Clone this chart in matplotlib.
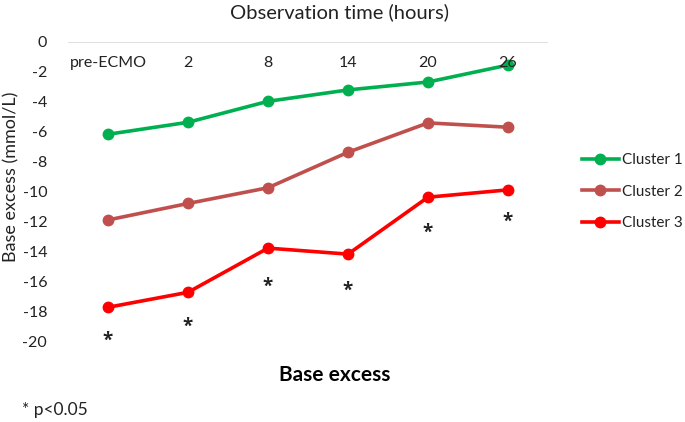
import matplotlib
matplotlib.use("Agg")
import matplotlib.pyplot as plt

plt.rcParams['font.family'] = ['Lato', 'DejaVu Sans']

categories = ["pre-ECMO", "2", "8", "14", "20", "26"]
cluster1 = [-6.18, -5.38, -3.98, -3.22, -2.69, -1.56]
cluster2 = [-11.9, -10.8, -9.75, -7.38, -5.42, -5.71]
cluster3 = [-17.73, -16.73, -13.78, -14.18, -10.38, -9.89]
star_y = [-19.95, -19.05, -16.35, -16.65, -12.75, -12.05]
yticks = [0, -2, -4, -6, -8, -10, -12, -14, -16, -18, -20]

W, H = 685, 422
fig = plt.figure(figsize=(W/100, H/100), dpi=100)
ax = fig.add_axes([68/W, 1-341.3/H, (548-68)/W, (341.3-41.7)/H])

x = list(range(len(categories)))
lw = 2.6
ms = 7.5
ax.plot(x, cluster1, color="#00B050", lw=lw, marker="o", ms=ms, label="Cluster 1", zorder=3)
ax.plot(x, cluster2, color="#C0504D", lw=lw, marker="o", ms=ms, label="Cluster 2", zorder=3)
ax.plot(x, cluster3, color="#FF0000", lw=lw, marker="o", ms=ms, label="Cluster 3", zorder=3)

for xi, yi in zip(x, star_y):
    ax.text(xi, yi, "*", ha="center", va="center", fontsize=13.5, fontweight="bold",
            family="Open Sans", color="#222222", clip_on=False)

ax.set_xlim(-0.5, len(categories)-0.5)
ax.set_ylim(-20, 0)
ax.axhline(0, color="#D9D9D9", lw=1.2, zorder=1)
for s in ax.spines.values():
    s.set_visible(False)
ax.set_xticks([])
ax.set_yticks(yticks)
ax.set_yticklabels([str(t) for t in yticks], fontsize=11.5, color="#222222")
ax.tick_params(axis="y", length=0, pad=15)

for xi, c in zip(x, categories):
    ax.text(xi, -1.4, c, ha="center", va="center", fontsize=11.5, color="#222222")

fig.text(11/W, 1-177/H, "Base excess (mmol/L)", rotation=90, ha="center", va="center",
         fontsize=13, color="#222222")

fig.text(340/W, 1-12/H, "Observation time (hours)", ha="center", va="center", fontsize=14.5, color="#222222")
fig.text(335/W, 1-375/H, "Base excess", ha="center", va="center", fontsize=15, fontweight="bold", color="black")
fig.text(22/W, 1-410/H, "* p<0.05", ha="left", va="center", fontsize=12.5, color="#222222")

leg = fig.legend(loc="upper left", bbox_to_anchor=(582/W, 1-153/H), frameon=False,
                 fontsize=11, handlelength=2.4, handletextpad=0.2, labelspacing=1.15,
                 borderaxespad=0, borderpad=0)
for t in leg.get_texts():
    t.set_color("#222222")

fig.savefig("out.png", dpi=100)
